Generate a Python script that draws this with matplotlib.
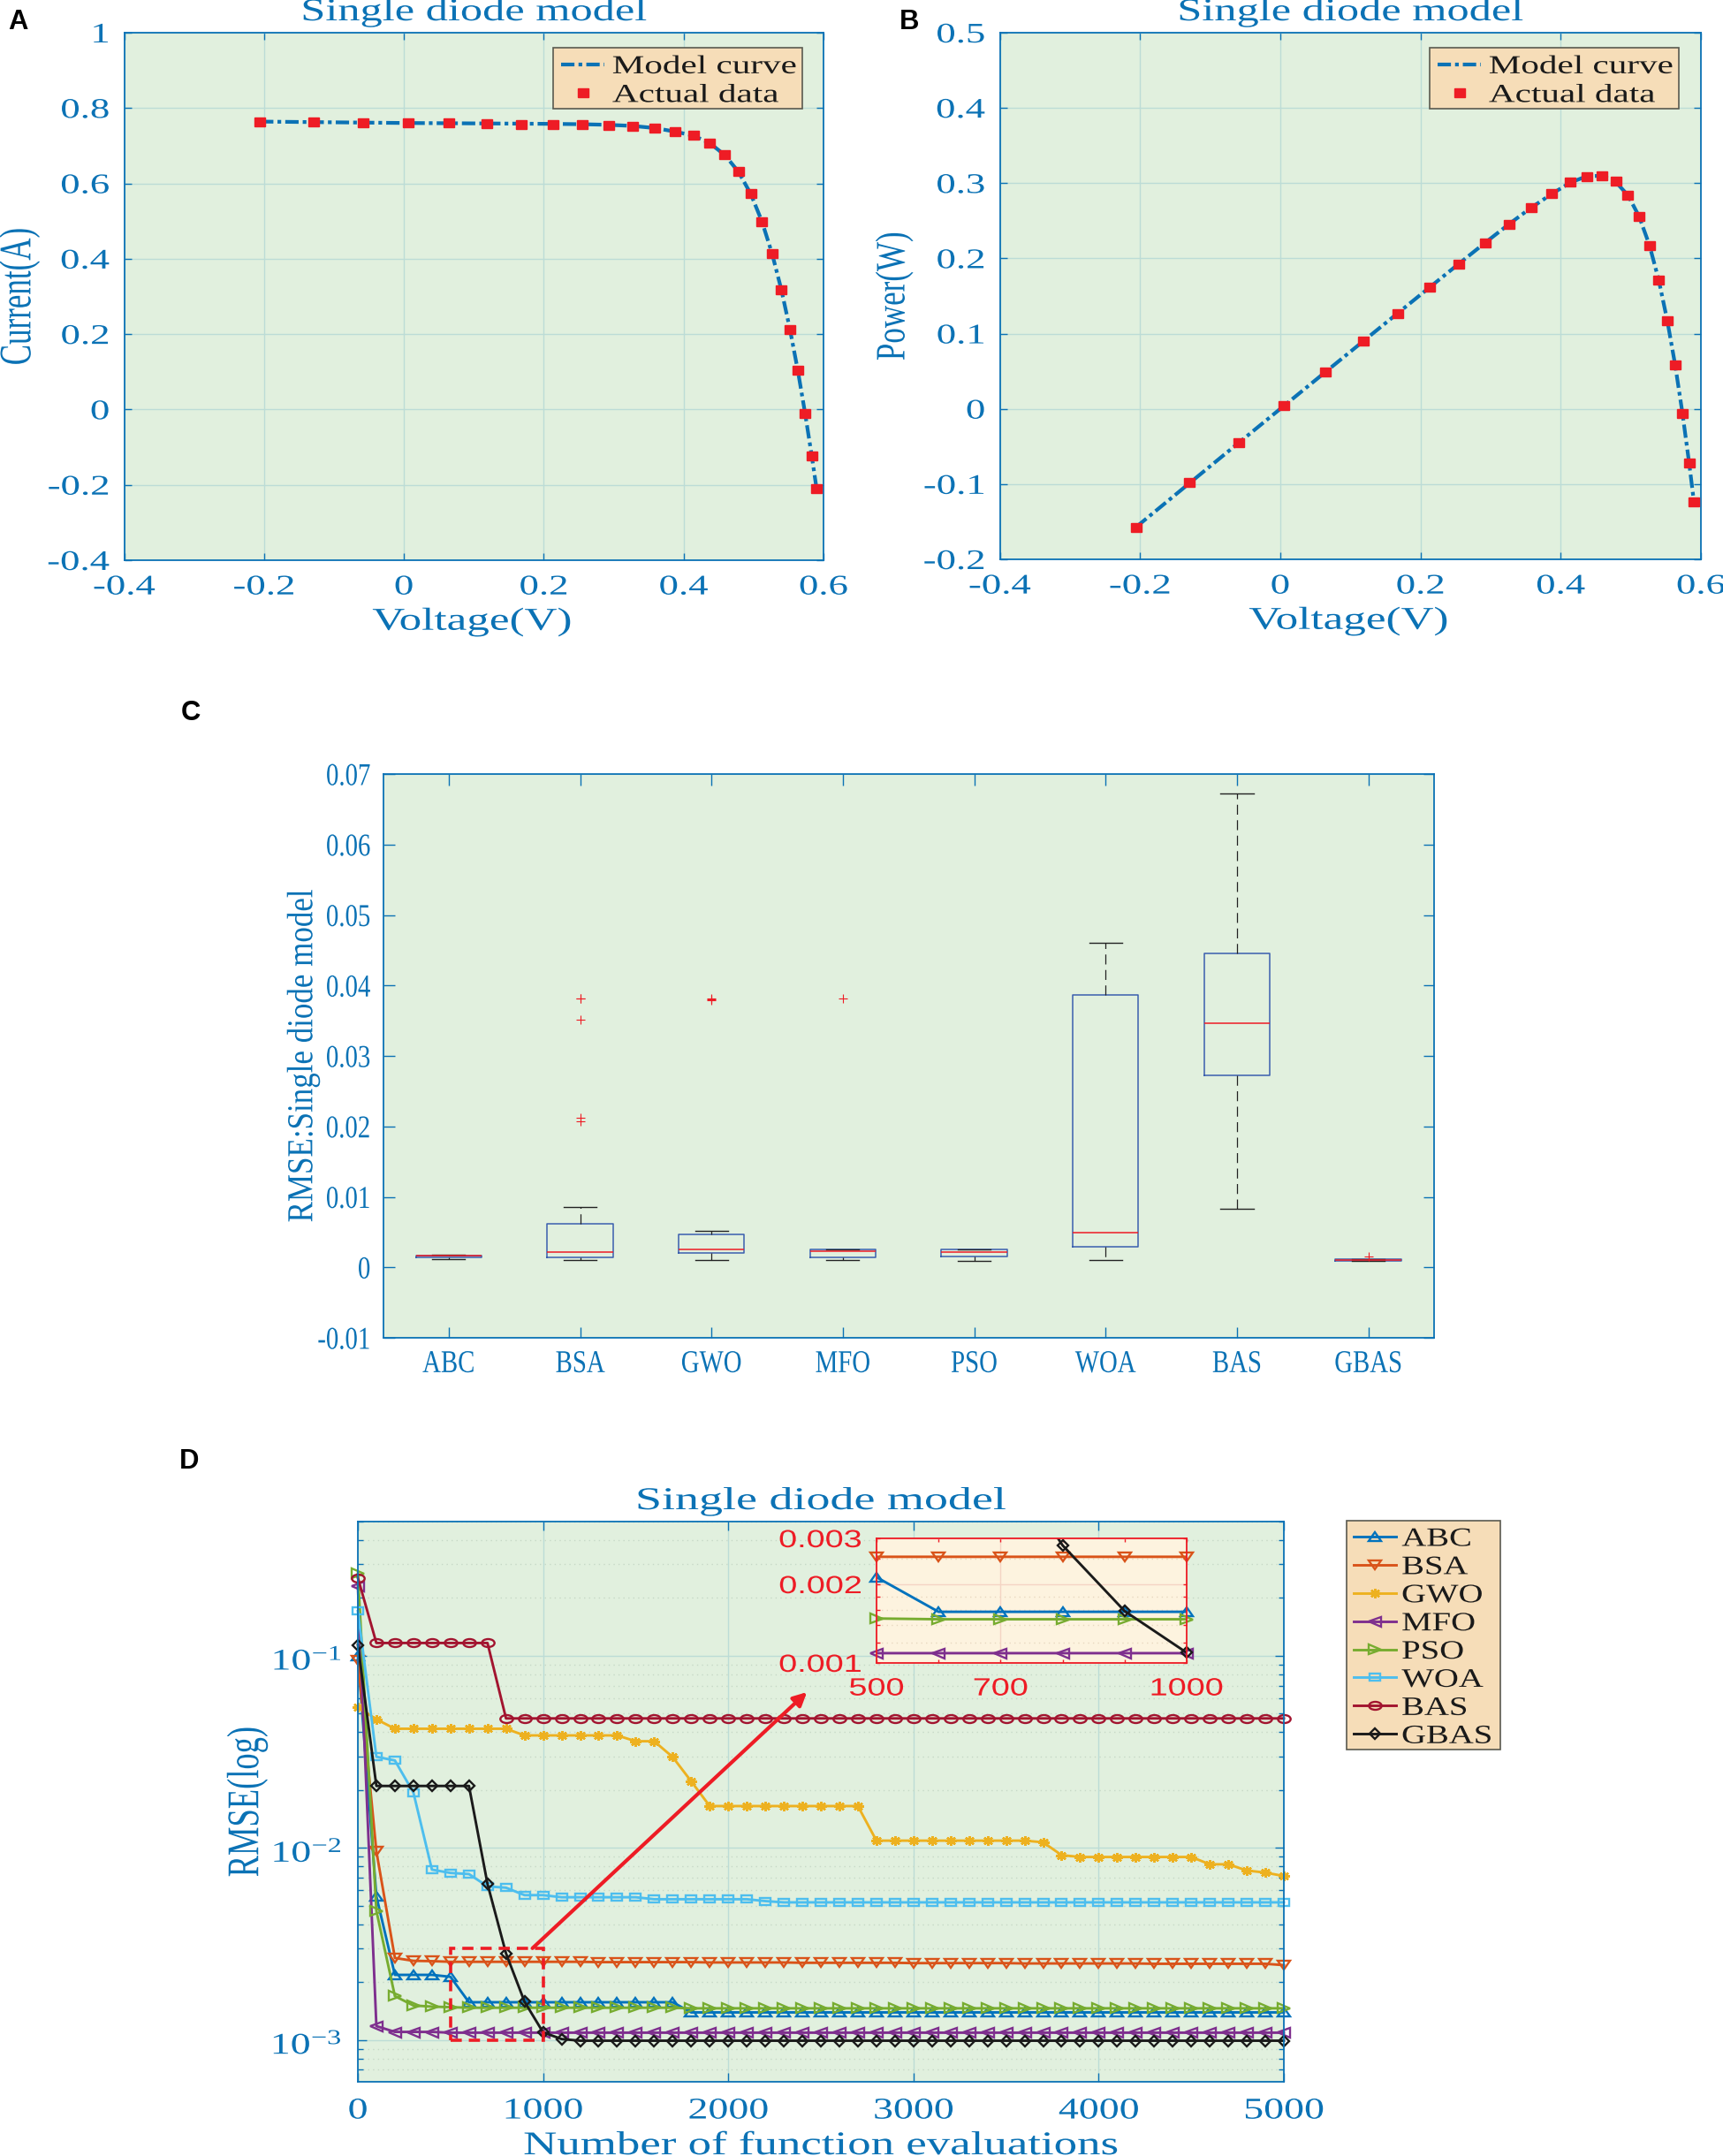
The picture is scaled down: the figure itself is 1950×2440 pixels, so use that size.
import numpy as np
import matplotlib
matplotlib.use("Agg")
import matplotlib.pyplot as plt
from matplotlib.markers import MarkerStyle
from matplotlib.patches import Rectangle
from matplotlib.patheffects import AbstractPathEffect
from matplotlib.ticker import LogLocator, NullFormatter
from matplotlib.transforms import Affine2D

plt.rcParams['font.family'] = ['Liberation Serif', 'DejaVu Serif']
plt.rcParams['mathtext.default'] = 'regular'
plt.rcParams['axes.axisbelow'] = True

W, H = 1950, 2440
BLUE = '#0B72B5'
RED = '#EE1C25'
PANEL_BG = '#E1F0DE'
LEGEND_BG = '#F6DDB8'
GRID = '#BCDCD6'

# panels A and B
voltage = [-0.2057, -0.1291, -0.0588, 0.0057, 0.0646, 0.1185, 0.1678, 0.2132, 0.2545, 0.2924,
           0.3269, 0.3585, 0.3873, 0.4137, 0.4373, 0.4590, 0.4784, 0.4960, 0.5119, 0.5265,
           0.5398, 0.5521, 0.5633, 0.5736, 0.5833, 0.5900]
current_data = [0.7640, 0.7620, 0.7605, 0.7605, 0.7600, 0.7590, 0.7570, 0.7570, 0.7555, 0.7540,
                0.7505, 0.7465, 0.7385, 0.7280, 0.7065, 0.6755, 0.6320, 0.5730, 0.4990, 0.4130,
                0.3165, 0.2120, 0.1035, -0.0100, -0.1230, -0.2100]
current_model = [0.7641, 0.7627, 0.7614, 0.7603, 0.7597, 0.7591, 0.7586, 0.7580, 0.7571, 0.7555,
                 0.7526, 0.7470, 0.7377, 0.7270, 0.7071, 0.6750, 0.6309, 0.5721, 0.4995, 0.4136,
                 0.3175, 0.2121, 0.1033, -0.0093, -0.1244, -0.2090]
power_data = [-0.1572, -0.0984, -0.0447, 0.0043, 0.0491, 0.0899, 0.1270, 0.1614, 0.1923, 0.2205,
              0.2453, 0.2676, 0.2860, 0.3012, 0.3090, 0.3100, 0.3023, 0.2842, 0.2554, 0.2174,
              0.1708, 0.1170, 0.0583, -0.0057, -0.0717, -0.1239]
power_model = [-0.1572, -0.0985, -0.0448, 0.0043, 0.0491, 0.0900, 0.1273, 0.1616, 0.1927, 0.2209,
               0.2460, 0.2678, 0.2857, 0.3008, 0.3092, 0.3098, 0.3018, 0.2838, 0.2557, 0.2178,
               0.1714, 0.1171, 0.0582, -0.0053, -0.0726, -0.1233]
volt_ticks = [-0.4, -0.2, 0, 0.2, 0.4, 0.6]
volt_labels = ['-0.4', '-0.2', '0', '0.2', '0.4', '0.6']
cur_ticks = [-0.4, -0.2, 0, 0.2, 0.4, 0.6, 0.8, 1]
cur_labels = ['-0.4', '-0.2', '0', '0.2', '0.4', '0.6', '0.8', '1']
pow_ticks = [-0.2, -0.1, 0, 0.1, 0.2, 0.3, 0.4, 0.5]
pow_labels = ['-0.2', '-0.1', '0', '0.1', '0.2', '0.3', '0.4', '0.5']

# panel C
algos = ['ABC', 'BSA', 'GWO', 'MFO', 'PSO', 'WOA', 'BAS', 'GBAS']
box_q1 = [0.00145, 0.00138, 0.0020, 0.0014, 0.0015, 0.0029, 0.0273, 0.00095]
box_med = [0.0016, 0.0022, 0.00253, 0.0023, 0.0022, 0.0049, 0.0346, 0.00098]
box_q3 = [0.0017, 0.00616, 0.0047, 0.0025, 0.0025, 0.0387, 0.0445, 0.0011]
box_lo = [0.00115, 0.0010, 0.00104, 0.0010, 0.0009, 0.0010, 0.0083, 0.00093]
box_hi = [0.0018, 0.0085, 0.0052, 0.0025, 0.0025, 0.0460, 0.0673, 0.0012]
box_out = [[], [0.0382, 0.0381, 0.0352, 0.0212, 0.0207], [0.0381, 0.0380, 0.0379],
           [0.0381], [], [], [], [0.0015]]
rmse_ticks = [-0.01, 0, 0.01, 0.02, 0.03, 0.04, 0.05, 0.06, 0.07]
rmse_labels = ['-0.01', '0', '0.01', '0.02', '0.03', '0.04', '0.05', '0.06', '0.07']

# panel D, one value every 100 evaluations
evals = np.arange(0, 5001, 100)
abc = [0.1, 0.0056, 0.00218, 0.00218, 0.00218, 0.00213, 0.00157, 0.00157, 0.00157, 0.00157,
       0.00157, 0.00157, 0.00157, 0.00157, 0.00157, 0.00157, 0.00157, 0.00157, 0.00139, 0.00139,
       0.00139, 0.00139, 0.00139, 0.00139, 0.00139, 0.00139, 0.00139, 0.00139, 0.00139, 0.00139,
       0.00139, 0.00139, 0.00139, 0.00139, 0.00139, 0.00139, 0.00139, 0.00139, 0.00139, 0.00139,
       0.00139, 0.00139, 0.00139, 0.00139, 0.00139, 0.00139, 0.00139, 0.00139, 0.00139, 0.00139,
       0.00139]
bsa = [0.095, 0.0096, 0.00267, 0.00258, 0.00257, 0.00255, 0.00255, 0.00255, 0.00255, 0.00255,
       0.00255, 0.00255, 0.00255, 0.00254, 0.00254, 0.00254, 0.00254, 0.00254, 0.00254, 0.00253,
       0.00253, 0.00253, 0.00253, 0.00253, 0.00252, 0.00252, 0.00252, 0.00252, 0.00252, 0.00252,
       0.00251, 0.00251, 0.00251, 0.00251, 0.00251, 0.00251, 0.00250, 0.00250, 0.00250, 0.00250,
       0.00250, 0.00250, 0.00250, 0.00249, 0.00249, 0.00249, 0.00249, 0.00249, 0.00249, 0.00249,
       0.00245]
gwo = [0.054, 0.0467, 0.0417, 0.0417, 0.0417, 0.0417, 0.0417, 0.0417, 0.0417, 0.0385,
       0.0385, 0.0385, 0.0385, 0.0385, 0.0385, 0.0359, 0.0359, 0.0297, 0.0222, 0.0165,
       0.0165, 0.0165, 0.0165, 0.0165, 0.0165, 0.0165, 0.0165, 0.0165, 0.0109, 0.0109,
       0.0109, 0.0109, 0.0109, 0.0109, 0.0109, 0.0109, 0.0109, 0.01069, 0.00916, 0.00896,
       0.00896, 0.00896, 0.00896, 0.00896, 0.00896, 0.00896, 0.00821, 0.00821, 0.00762, 0.00743,
       0.00713]
mfo = [0.23, 0.00118, 0.0011, 0.0011, 0.0011, 0.00109, 0.00109, 0.00109, 0.00109, 0.00109,
       0.00109, 0.00109, 0.00109, 0.00109, 0.00109, 0.00109, 0.00109, 0.00109, 0.00109, 0.00109,
       0.00109, 0.00109, 0.00109, 0.00109, 0.00109, 0.00109, 0.00109, 0.00109, 0.00109, 0.00109,
       0.00109, 0.00109, 0.00109, 0.00109, 0.00109, 0.00109, 0.00109, 0.00109, 0.00109, 0.00109,
       0.00109, 0.00109, 0.00109, 0.00109, 0.00109, 0.00109, 0.00109, 0.00109, 0.00109, 0.00109,
       0.00109]
pso = [0.268, 0.0047, 0.00169, 0.00151, 0.00149, 0.00148, 0.00147, 0.00147, 0.00147, 0.00147,
       0.00147, 0.00147, 0.00147, 0.00147, 0.00147, 0.00147, 0.00147, 0.00147, 0.00146, 0.00146,
       0.00146, 0.00146, 0.00146, 0.00146, 0.00146, 0.00146, 0.00146, 0.00146, 0.00146, 0.00146,
       0.00146, 0.00146, 0.00146, 0.00146, 0.00146, 0.00146, 0.00146, 0.00146, 0.00146, 0.00146,
       0.00146, 0.00146, 0.00146, 0.00146, 0.00146, 0.00146, 0.00146, 0.00146, 0.00146, 0.00146,
       0.00146]
woa = [0.171, 0.0298, 0.0285, 0.0194, 0.0077, 0.0074, 0.0073, 0.0063, 0.0062, 0.00567,
       0.00567, 0.00553, 0.00553, 0.00553, 0.00553, 0.00553, 0.0054, 0.0054, 0.0054, 0.0054,
       0.0054, 0.0054, 0.00528, 0.0052, 0.0052, 0.0052, 0.0052, 0.0052, 0.0052, 0.0052,
       0.0052, 0.0052, 0.0052, 0.0052, 0.0052, 0.0052, 0.0052, 0.0052, 0.0052, 0.0052,
       0.0052, 0.0052, 0.0052, 0.0052, 0.0052, 0.0052, 0.0052, 0.0052, 0.0052, 0.0052,
       0.0052]
bas = [0.255, 0.1166, 0.1166, 0.1166, 0.1166, 0.1166, 0.1166, 0.1166, 0.0472, 0.0472,
       0.0472, 0.0472, 0.0472, 0.0472, 0.0472, 0.0472, 0.0472, 0.0472, 0.0472, 0.0472,
       0.0472, 0.0472, 0.0472, 0.0472, 0.0472, 0.0472, 0.0472, 0.0472, 0.0472, 0.0472,
       0.0472, 0.0472, 0.0472, 0.0472, 0.0472, 0.0472, 0.0472, 0.0472, 0.0472, 0.0472,
       0.0472, 0.0472, 0.0472, 0.0472, 0.0472, 0.0472, 0.0472, 0.0472, 0.0472, 0.0472,
       0.0472]
gbas = [0.114, 0.021, 0.021, 0.021, 0.021, 0.021, 0.021, 0.00649, 0.00282, 0.00158,
        0.001095, 0.00101, 0.00099, 0.00099, 0.00099, 0.00099, 0.00099, 0.00099, 0.00099, 0.00099,
        0.00099, 0.00099, 0.00099, 0.00099, 0.00099, 0.00099, 0.00099, 0.00099, 0.00099, 0.00099,
        0.00099, 0.00099, 0.00099, 0.00099, 0.00099, 0.00099, 0.00099, 0.00099, 0.00099, 0.00099,
        0.00099, 0.00099, 0.00099, 0.00099, 0.00099, 0.00099, 0.00099, 0.00099, 0.00099, 0.00099,
        0.00099]
series = [('ABC', abc, '#0072BD'), ('BSA', bsa, '#D95319'), ('GWO', gwo, '#EDB120'),
          ('MFO', mfo, '#7E2F8E'), ('PSO', pso, '#77AC30'), ('WOA', woa, '#4DBEEE'),
          ('BAS', bas, '#A2142F'), ('GBAS', gbas, '#1A1A1A')]
# marker, height in px, horizontal stretch
marker_style = {'ABC': ('^', 10, 1.5), 'BSA': ('v', 10, 1.5), 'GWO': ((8, 2, 0), 10.5, 1.2),
                'MFO': ('<', 11, 1.3), 'PSO': ('>', 11, 1.3), 'WOA': ('s', 8, 1.5),
                'BAS': ('o', 9, 1.6), 'GBAS': ('D', 9, 1.0)}


class Stretch(AbstractPathEffect):
    # the source figure was resized unevenly, so text is wider than the font
    def __init__(self, sx=1.0, sy=1.0, anchor='center'):
        super().__init__()
        self.sx, self.sy, self.anchor = sx, sy, anchor

    def draw_path(self, renderer, gc, tpath, affine, rgbFace=None):
        ext = tpath.get_extents()
        x0 = {'left': ext.x0, 'center': (ext.x0 + ext.x1) / 2, 'right': ext.x1}[self.anchor]
        t = Affine2D().translate(-x0, 0).scale(self.sx, self.sy).translate(x0, 0) + affine
        renderer.draw_path(gc, tpath, t, rgbFace)


def px(n):
    return n * 0.72


def wide(marker, sx=1.45):
    return MarkerStyle(marker, transform=Affine2D().scale(sx, 1))


def marker_kw(name, col):
    mk, size, sx = marker_style[name]
    return dict(marker=wide(mk, sx), ms=px(size), mfc='none', mec=col, mew=1.7, clip_on=False)


def make_axes(l, t, r, b, bg=PANEL_BG, color=BLUE):
    ax = fig.add_axes([l / W, 1 - b / H, (r - l) / W, (b - t) / H], facecolor=bg)
    for s in ax.spines.values():
        s.set_color(color)
        s.set_linewidth(1.3)
    ax.tick_params(which='both', direction='in', top=True, right=True, color=color, labelcolor=color)
    return ax


def stretch_ticks(ax, size, sx):
    for lab in ax.get_xticklabels():
        lab.set_fontsize(size)
        lab.set_path_effects([Stretch(sx=sx)])
    for lab in ax.get_yticklabels():
        lab.set_fontsize(size)
        lab.set_path_effects([Stretch(sx=sx, anchor='right')])


def box_legend(ax, handles, labels, box, size, sx, **kw):
    # frame drawn by hand, the legend can't size itself to the stretched text
    l, t, r, b = box
    leg = ax.legend(handles, labels, loc='upper left', bbox_to_anchor=(l / W, 1 - t / H),
                    bbox_transform=fig.transFigure, borderaxespad=0, fontsize=size,
                    frameon=False, **kw)
    for txt in leg.get_texts():
        txt.set_color('#1A1A1A')
        txt.set_path_effects([Stretch(sx=sx, anchor='left')])
    ax.add_patch(Rectangle((l / W, 1 - b / H), (r - l) / W, (b - t) / H, transform=fig.transFigure,
                           fc=LEGEND_BG, ec='#5A5A50', lw=1.2, clip_on=False, zorder=4.5))


def iv_panel(box, legend_box, xs, model, data, yticks, ylabels, ylim, ylabel, ylab_x, ylab_sy):
    ax = make_axes(*box)
    model_line, = ax.plot(xs, model, color=BLUE, lw=px(4.2), ls=(0, (3.6, 1.1, 1, 1.1)))
    data_line, = ax.plot(xs, data, ls='none', marker=wide('s', 1.33), ms=px(9.5), mfc=RED, mec=RED,
                         clip_on=False, zorder=3)
    ax.set_xlim(-0.4, 0.6)
    ax.set_ylim(*ylim)
    ax.set_xticks(volt_ticks, volt_labels)
    ax.set_yticks(yticks, ylabels)
    ax.grid(True, color=GRID, lw=1)
    ax.tick_params(length=5.5, width=1, pad=12)
    stretch_ticks(ax, px(32), 1.4)
    ax.set_title('Single diode model', color=BLUE, fontsize=px(36), pad=px(14),
                 path_effects=[Stretch(sx=1.4)])
    ax.set_xlabel('Voltage(V)', color=BLUE, fontsize=px(36), labelpad=px(8), x=0.497,
                  path_effects=[Stretch(sx=1.42)])
    ax.set_ylabel(ylabel, color=BLUE, fontsize=px(35), path_effects=[Stretch(sy=ylab_sy)])
    ax.yaxis.set_label_coords(ylab_x, 0.5)
    box_legend(ax, [model_line, data_line], ['Model curve', 'Actual data'], legend_box, px(29.4), 1.4,
               handlelength=1.68, handletextpad=0.3, labelspacing=0.2, borderpad=0.3)
    return ax


fig = plt.figure(figsize=(W / 100, H / 100), dpi=100)

# A, B
iv_panel((140.5, 37, 932, 634), (626, 53.5, 908, 123), voltage, current_model, current_data,
         cur_ticks, cur_labels, (-0.4, 1), 'Current(A)', -0.124, 1.46)
iv_panel((1131.5, 37, 1925, 633), (1618, 53.5, 1900, 123), voltage, power_model, power_data,
         pow_ticks, pow_labels, (-0.2, 0.5), 'Power(W)', -0.126, 1.35)

# C
axc = make_axes(433.5, 876, 1623, 1514)
stats = [dict(med=m, q1=a, q3=b, whislo=lo, whishi=hi, fliers=f)
         for m, a, b, lo, hi, f in zip(box_med, box_q1, box_q3, box_lo, box_hi, box_out)]
axc.bxp(stats, positions=range(1, 9), widths=0.5, capwidths=0.25, manage_ticks=False,
        boxprops=dict(color='#3A5FAE', lw=1.1), medianprops=dict(color=RED, lw=1.1),
        whiskerprops=dict(color='#222222', lw=0.9, ls=(0, (9, 5))),
        capprops=dict(color='#222222', lw=1.0),
        flierprops=dict(marker='+', mec=RED, ms=7, mew=0.8))
axc.set_xlim(0.5, 8.5)
axc.set_ylim(-0.01, 0.07)
axc.set_xticks(range(1, 9), algos)
axc.set_yticks(rmse_ticks, rmse_labels)
axc.tick_params(length=9, width=1, pad=10)
stretch_ticks(axc, px(36), 0.8)
axc.set_ylabel('RMSE:Single diode model', color=BLUE, fontsize=px(33),
               path_effects=[Stretch(sx=1.06, sy=1.25)])
axc.yaxis.set_label_coords(-0.0615, 0.5)

# D
axd = make_axes(405, 1722, 1453, 2356)
axd.set_yscale('log')
handles = []
for name, vals, col in series:
    ln, = axd.plot(evals, vals, color=col, lw=px(2.9), label=name, **marker_kw(name, col))
    handles.append(ln)
axd.set_xlim(0, 5000)
axd.set_ylim(6.05e-4, 0.5)
axd.set_xticks([0, 1000, 2000, 3000, 4000, 5000], ['0', '1000', '2000', '3000', '4000', '5000'])
axd.set_yticks([1e-3, 1e-2, 1e-1], ['$10^{-3}$', '$10^{-2}$', '$10^{-1}$'])
axd.yaxis.set_minor_locator(LogLocator(base=10, subs=np.arange(2, 10), numticks=12))
axd.yaxis.set_minor_formatter(NullFormatter())
axd.grid(True, which='major', color=GRID, lw=1)
axd.grid(True, which='minor', axis='y', color='#C6D8C6', lw=1, ls=(0, (1, 3)))
axd.tick_params(which='major', length=7, width=1, pad=13)
axd.tick_params(which='minor', length=4.5, width=1)
stretch_ticks(axd, px(34), 1.35)
# the exponent sits above the tick, the base just below it
for lab in axd.get_yticklabels():
    lab.set_transform(lab.get_transform() + Affine2D().translate(0, -4))
axd.set_title('Single diode model', color=BLUE, fontsize=px(36), pad=px(14),
              path_effects=[Stretch(sx=1.5)])
axd.set_xlabel('Number of function evaluations', color=BLUE, fontsize=px(37.5), labelpad=px(7),
               path_effects=[Stretch(sx=1.41)])
axd.set_ylabel('RMSE(log)', color=BLUE, fontsize=px(36.5), path_effects=[Stretch(sy=1.4)])
axd.yaxis.set_label_coords(-0.1, 0.5)
box_legend(axd, handles, [s[0] for s in series], (1524, 1721, 1698, 1980), px(30), 1.29,
           handlelength=1.63, handletextpad=0.2, labelspacing=0.163, borderpad=0.25)

# zoom box and arrow
axd.add_patch(Rectangle((500, 0.001), 500, 0.002, fill=False, ec=RED, lw=2.6, ls=(0, (3.5, 2.2)),
                        zorder=6))
axd.annotate('', xy=(2425, 0.0647), xytext=(943, 0.003),
             arrowprops=dict(arrowstyle='-|>,head_width=0.45,head_length=0.9', color=RED, lw=3,
                             shrinkA=0, shrinkB=0), zorder=7)

# inset
axi = make_axes(992, 1741, 1343, 1882, bg='#FDF3DF', color=RED)
axi.set_yscale('log')
for name, vals, col in series:
    if name in ('GWO', 'WOA', 'BAS'):
        continue
    vals = np.array(vals)
    axi.plot(evals, vals, color=col, lw=px(2.9))
    keep = (evals >= 500) & (evals <= 1000) & (vals <= 0.003)
    axi.plot(evals[keep], vals[keep], ls='none', **marker_kw(name, col))
axi.set_xlim(500, 1000)
axi.set_ylim(0.001, 0.003)
axi.set_xticks([500, 700, 1000], ['500', '700', '1000'])
axi.set_xticks([600, 800, 900], minor=True)
axi.set_yticks([0.001, 0.002, 0.003], ['0.001', '0.002', '0.003'])
axi.set_yticks([0.0012, 0.0014, 0.0016, 0.0018, 0.0025], minor=True)
axi.yaxis.set_minor_formatter(NullFormatter())
axi.grid(True, which='major', color='#F4D4C4', lw=1)
axi.grid(True, which='minor', axis='y', color='#E8D8C0', lw=1, ls=(0, (1, 3)))
axi.tick_params(which='both', length=3, width=1)
axi.tick_params(which='major', pad=12)
for lab in axi.get_xticklabels():
    lab.set_family('Liberation Sans')
    lab.set_fontsize(px(28))
    lab.set_path_effects([Stretch(sx=1.35)])
for lab in axi.get_yticklabels():
    lab.set_family('Liberation Sans')
    lab.set_fontsize(px(28))
    lab.set_path_effects([Stretch(sx=1.35, anchor='right')])

# panel letters
for letter, x, y in [('A', 9, 33), ('B', 1018, 33), ('C', 205, 815), ('D', 203, 1662)]:
    fig.text(x / W, 1 - y / H, letter, family='Liberation Sans', weight='bold', fontsize=px(31),
             color='black', ha='left', va='baseline')

fig.savefig('out.png', dpi=100, facecolor='white')
